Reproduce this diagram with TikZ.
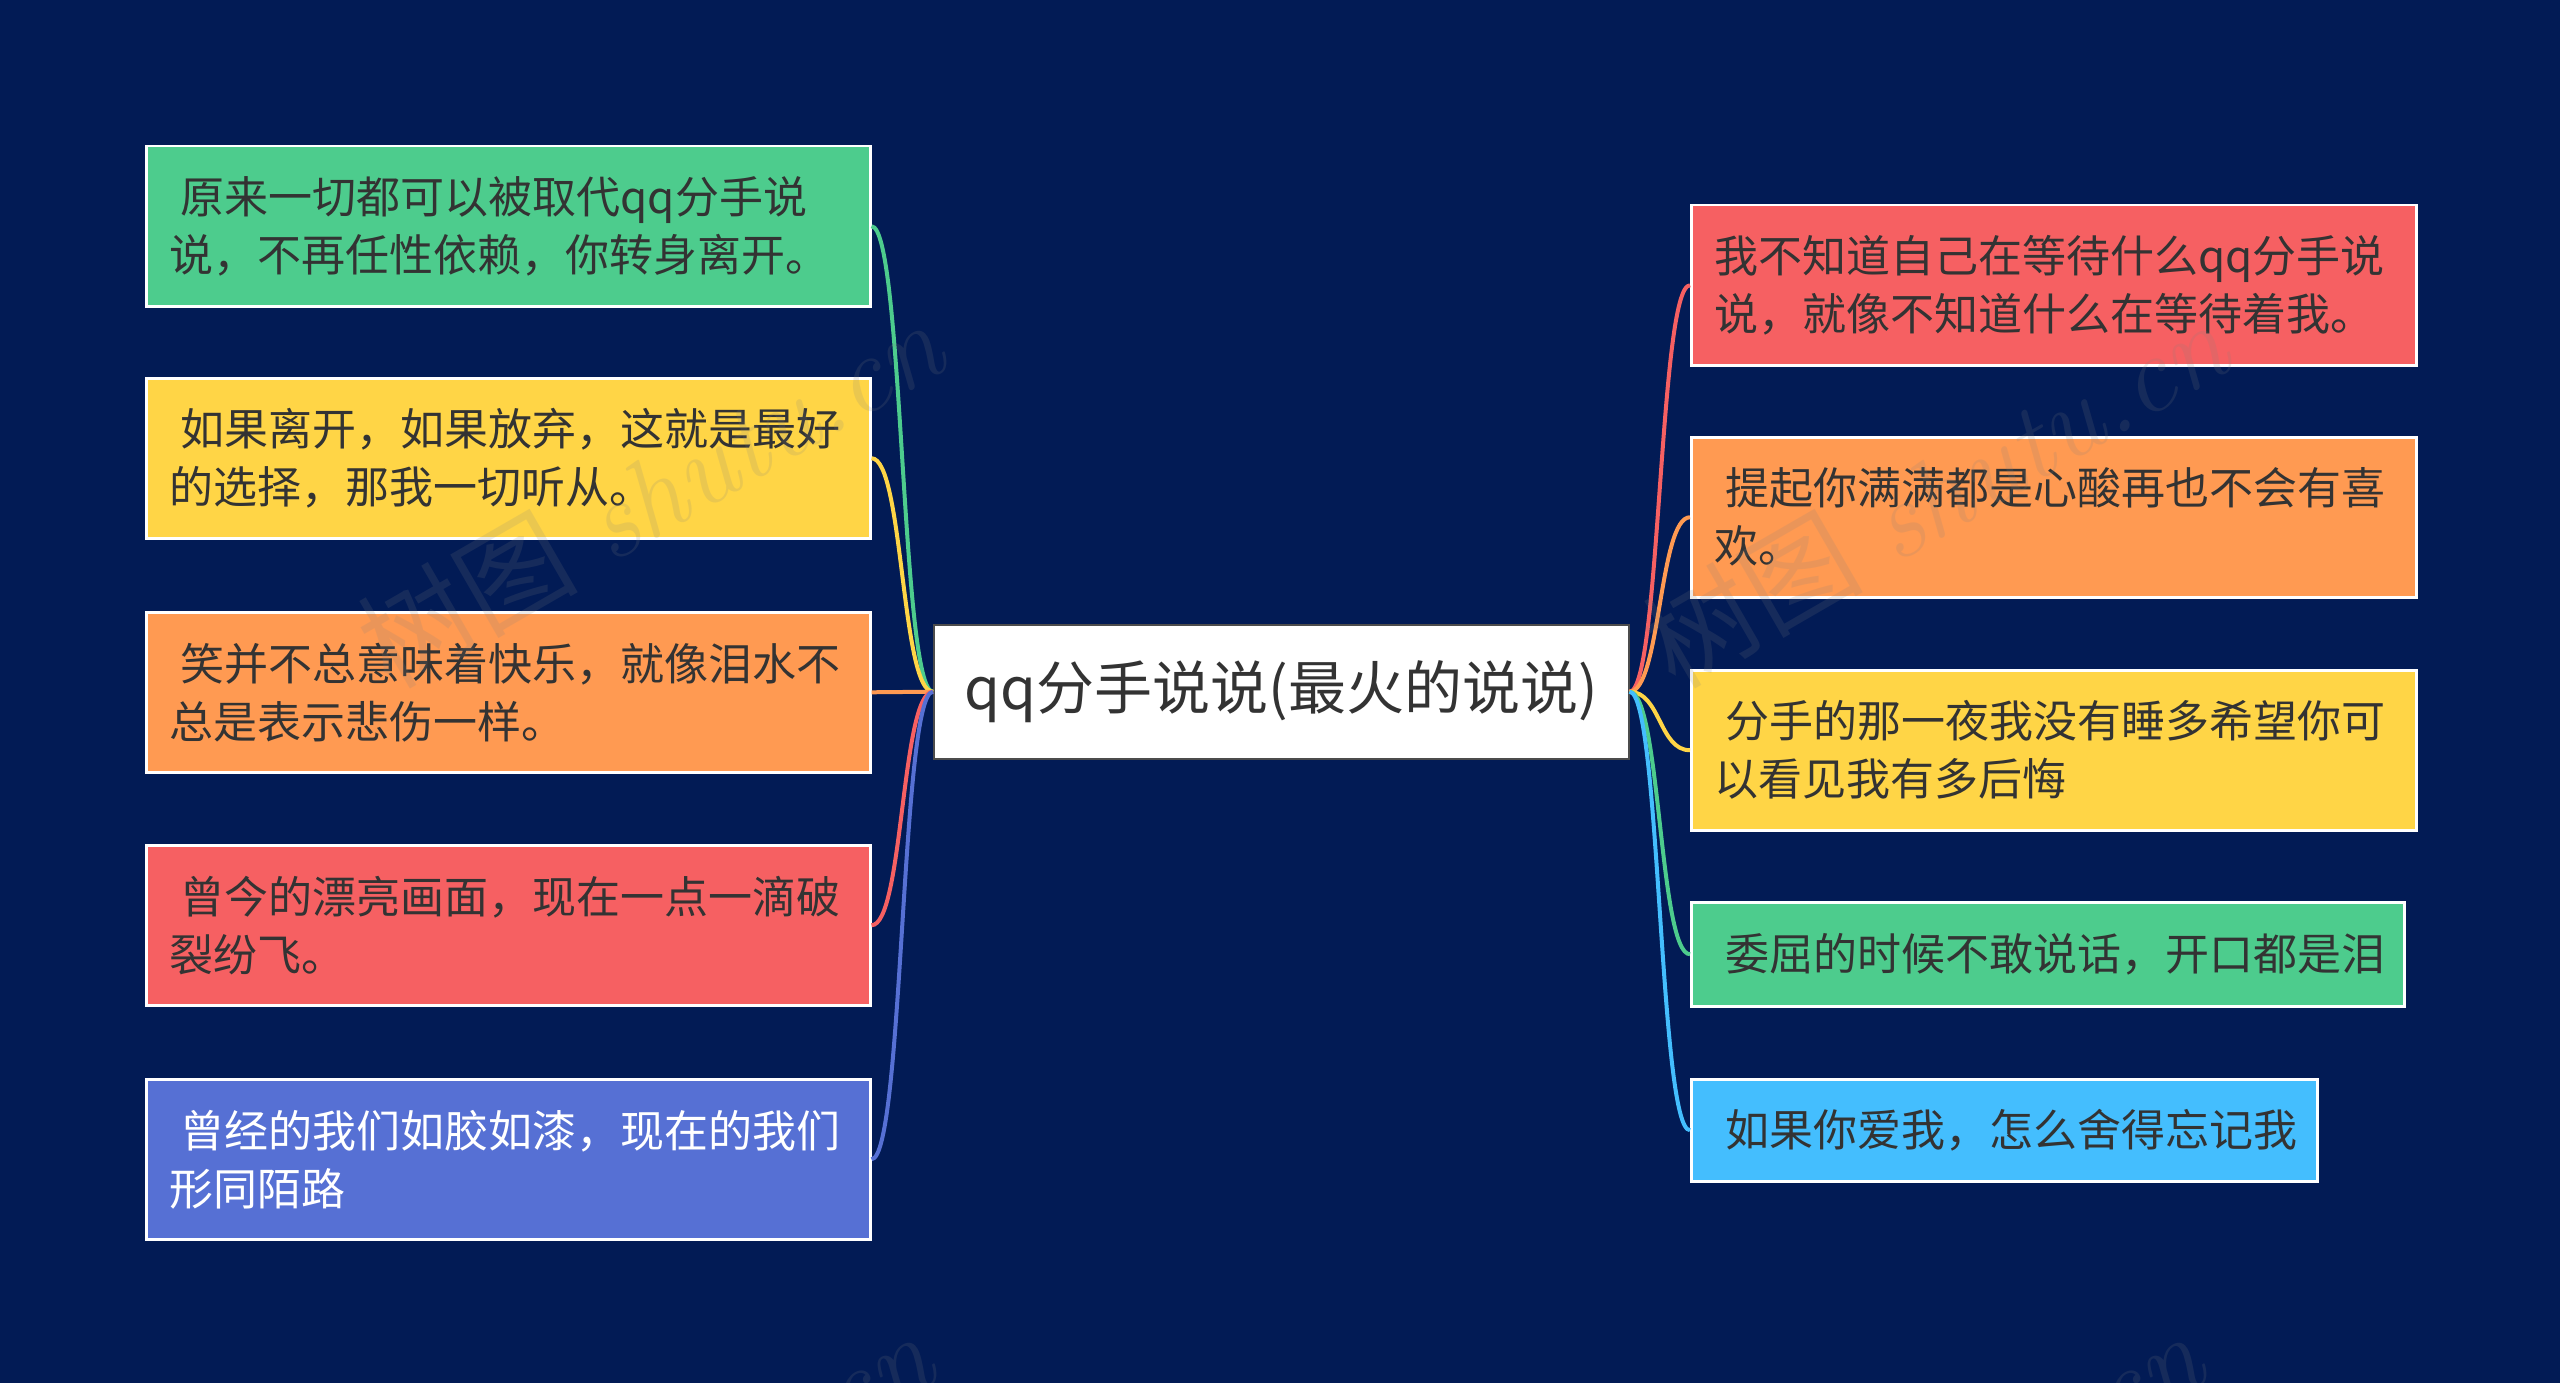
\documentclass[tikz,border=0pt]{standalone}
\usepackage{fontspec}
\newfontfamily\cjk{Noto Sans CJK SC}
\usetikzlibrary{calc}
\definecolor{bgc}{HTML}{021B55}
\definecolor{cgreen}{HTML}{4DCC8D}
\definecolor{cyellow}{HTML}{FFD546}
\definecolor{corange}{HTML}{FF9A52}
\definecolor{cred}{HTML}{F66062}
\definecolor{cblue}{HTML}{5670D4}
\definecolor{clblue}{HTML}{44BEFE}
\definecolor{ctext}{HTML}{333333}
\tikzset{
  box/.style={draw=white, line width=2.5pt, anchor=north west, align=left,
    inner xsep=23pt, inner ysep=0pt, text=ctext,
    font=\cjk\fontsize{44}{58}\selectfont},
  center/.style={draw=black!70, line width=1.5pt, fill=white, anchor=north west,
    minimum width=695pt, minimum height=134pt, inner sep=0pt, text=ctext,
    font=\cjk\fontsize{58}{70}\selectfont},
  link/.style={line width=4pt},
  wmark/.style={text=gray, opacity=0.16, rotate=30, font=\fontsize{110}{120}\selectfont}
}
\newcommand{\ind}{\hspace*{0.26em}}
\begin{document}
\begin{tikzpicture}[x=1pt,y=1pt]
\useasboundingbox (0,0) rectangle (2560,-1383);
\fill[bgc] (0,0) rectangle (2560,-1383);

% center
\node[center] (c) at (933,-624) {qq分手说说(最火的说说)};

% left boxes
\node[box, fill=cgreen, text width=678pt, minimum height=160pt] (l1) at (145,-145)
  {\ind 原来一切都可以被取代qq分手说\\说，不再任性依赖，你转身离开。};
\node[box, fill=cyellow, text width=678pt, minimum height=160pt] (l2) at (145,-377)
  {\ind 如果离开，如果放弃，这就是最好\\的选择，那我一切听从。};
\node[box, fill=corange, text width=678pt, minimum height=160pt] (l3) at (145,-611)
  {\ind 笑并不总意味着快乐，就像泪水不\\总是表示悲伤一样。};
\node[box, fill=cred, text width=678pt, minimum height=160pt] (l4) at (145,-844)
  {\ind 曾今的漂亮画面，现在一点一滴破\\裂纷飞。};
\node[box, fill=cblue, text=white, text width=678pt, minimum height=160pt] (l5) at (145,-1078)
  {\ind 曾经的我们如胶如漆，现在的我们\\形同陌路};

% right boxes
\node[box, fill=cred, text width=679pt, minimum height=160pt] (r1) at (1690,-204)
  {我不知道自己在等待什么qq分手说\\说，就像不知道什么在等待着我。};
\node[box, fill=corange, text width=679pt, minimum height=160pt] (r2) at (1690,-436)
  {\ind 提起你满满都是心酸再也不会有喜\\欢。};
\node[box, fill=cyellow, text width=679pt, minimum height=160pt] (r3) at (1690,-669)
  {\ind 分手的那一夜我没有睡多希望你可\\以看见我有多后悔};
\node[box, fill=cgreen, text width=667pt, minimum height=104pt] (r4) at (1690,-901)
  {\ind 委屈的时候不敢说话，开口都是泪};
\node[box, fill=clblue, text width=580pt, minimum height=102pt] (r5) at (1690,-1078)
  {\ind 如果你爱我，怎么舍得忘记我};

% connectors
\draw[link, cgreen]  (c.west) .. controls +(-32,0) and +(32,0) .. (l1.east);
\draw[link, cyellow] (c.west) .. controls +(-32,0) and +(32,0) .. (l2.east);
\draw[link, corange] (c.west) .. controls +(-32,0) and +(32,0) .. (l3.east);
\draw[link, cred]    (c.west) .. controls +(-32,0) and +(32,0) .. (l4.east);
\draw[link, cblue]   (c.west) .. controls +(-32,0) and +(32,0) .. (l5.east);

\draw[link, cred]    (c.east) .. controls +(31,0) and +(-31,0) .. (r1.west);
\draw[link, corange] (c.east) .. controls +(31,0) and +(-31,0) .. (r2.west);
\draw[link, cyellow] (c.east) .. controls +(31,0) and +(-31,0) .. (r3.west);
\draw[link, cgreen]  (c.east) .. controls +(31,0) and +(-31,0) .. (r4.west);
\draw[link, clblue]  (c.east) .. controls +(31,0) and +(-31,0) .. (r5.west);

% watermarks
\begin{scope}
\clip (0,0) rectangle (2560,-1383);
\node[wmark] (w1) at (650,-493) {{\cjk 树图} \itshape shutu.cn};
\node[wmark] (w2) at (1935,-493) {{\cjk 树图} \itshape shutu.cn};
\node[wmark] (w3) at (640,-1505) {{\cjk 树图} \itshape shutu.cn};
\node[wmark] (w4) at (1910,-1505) {{\cjk 树图} \itshape shutu.cn};
\end{scope}
\end{tikzpicture}
\end{document}
